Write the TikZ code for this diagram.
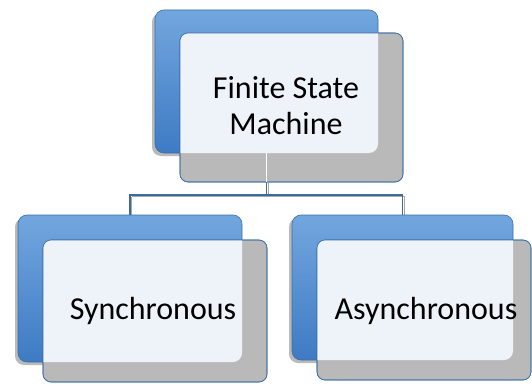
\documentclass[tikz,border=0pt]{standalone}
\usepackage{fontspec}
\setmainfont{Carlito}
\usetikzlibrary{shadows}
\definecolor{blueTop}{HTML}{72A6DE}
\definecolor{blueBot}{HTML}{3E7BC4}
\definecolor{blueEdge}{HTML}{3A6EA8}
\definecolor{frontGray}{HTML}{B9B9B9}
\definecolor{frontLight}{HTML}{EEF3FA}
\definecolor{lineBlue}{HTML}{3C6A9C}
\begin{document}
\begin{tikzpicture}[x=1pt,y=-1pt,
  backbox/.style={draw=blueEdge, line width=0.6pt, rounded corners=9pt,
    top color=blueTop, bottom color=blueBot,
    drop shadow={shadow xshift=-3pt, shadow yshift=-3pt, fill=black!45, opacity=0.6}},
  frontbox/.style={draw=blueEdge, line width=0.6pt, rounded corners=8pt, fill=frontGray},
  lightfill/.style={fill=frontLight, rounded corners=9pt},
  label/.style={font=\fontsize{32}{36}\selectfont, align=center, text=black, inner sep=0pt},
  conn/.style={draw=lineBlue, line width=1.2pt},
  connshadow/.style={draw=black!35, line width=1pt}
]
\useasboundingbox (0,0) rectangle (532,385);
\fill[white] (0,0) rectangle (532,385);

% ---------- top group ----------
\path[backbox] (155,10) rectangle (378,153);
\coordinate (topS) at (266.5,153);
\path[frontbox] (180,33) rectangle (403,182);
\begin{scope}
  \clip[rounded corners=8pt] (180,33) rectangle (403,182);
  \path[lightfill] (155,10) rectangle (378,153);
\end{scope}
\draw[blueEdge, line width=0.6pt, rounded corners=8pt] (180,33) rectangle (403,182);
\node[label] (fsm) at (286,106) {Finite State\\Machine};

% ---------- connectors ----------
\coordinate (topB) at (266.5,182);
\coordinate (leftN) at (130,215);
\coordinate (rightN) at (402.5,215);
\draw[white, line width=1.2pt] (topS) -- (topB);
\draw[connshadow] (268,183) -- (268,196.5);
\draw[connshadow] (131.5,196.5) -- (404,196.5) -- (404,215);
\draw[connshadow] (131.5,196.5) -- (131.5,215);
\draw[conn] (topB) |- (130,195) -- (leftN);
\draw[conn] (topB) |- (402.5,195) -- (rightN);

% ---------- left group ----------
\path[backbox] (18,215) rectangle (242,362);
\path[frontbox] (43,240) rectangle (267,382);
\begin{scope}
  \clip[rounded corners=8pt] (43,240) rectangle (267,382);
  \path[lightfill] (18,215) rectangle (242,362);
\end{scope}
\draw[blueEdge, line width=0.6pt, rounded corners=8pt] (43,240) rectangle (267,382);
\node[label] (sync) at (153,311) {Synchronous};

% ---------- right group ----------
\path[backbox] (292,215) rectangle (513,360);
\path[frontbox] (317,240) rectangle (531,380);
\begin{scope}
  \clip[rounded corners=8pt] (317,240) rectangle (531,380);
  \path[lightfill] (292,215) rectangle (513,360);
\end{scope}
\draw[blueEdge, line width=0.6pt, rounded corners=8pt] (317,240) rectangle (531,380);
\node[label] (async) at (426,311) {Asynchronous};
\end{tikzpicture}
\end{document}
